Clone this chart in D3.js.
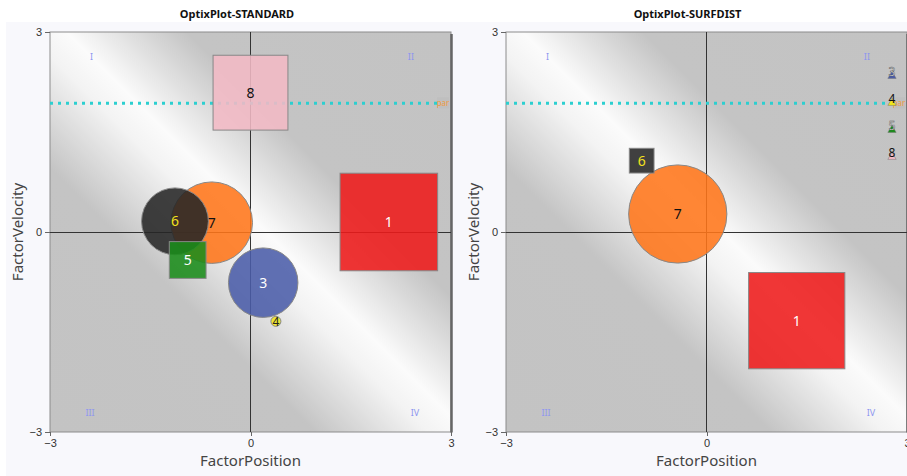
<!DOCTYPE html>
<html lang="en">
<head>
  <meta charset="UTF-8">
  <title>OptixPlot</title>
  <style>
    body { margin: 0; background: #fff; }
    svg { display: block; font-family: "Noto Sans", "DejaVu Sans", sans-serif; }
    .axis path, .axis line { stroke: #666; shape-rendering: crispEdges; }
    .axis text { font-size: 11px; fill: #333; }
  </style>
</head>
<body>
<div class="chart"></div>
<script src="https://d3js.org/d3.v7.min.js"></script>
<script>
  // data
  const xTicks = [-3, 0, 3]
  const yTicks = [-3, 0, 3]
  const quadrants = ['I', 'II', 'III', 'IV']
  const parLevel = 1.93

  // left panel: STANDARD
  const stdIds = ['1', '3', '4', '5', '6', '7', '8']
  const stdShape = ['square', 'circle', 'circle', 'square', 'circle', 'circle', 'square']
  const stdX = [2.07, 0.19, 0.38, -0.94, -1.13, -0.58, 0.0]
  const stdY = [0.15, -0.76, -1.34, -0.42, 0.16, 0.14, 2.09]
  const stdSize = [0.73, 0.52, 0.075, 0.275, 0.50, 0.61, 0.56]

  // right panel: SURFDIST
  const surfIds = ['1', '6', '7']
  const surfShape = ['square', 'square', 'circle']
  const surfX = [1.35, -0.97, -0.43]
  const surfY = [-1.33, 1.07, 0.27]
  const surfSize = [0.72, 0.185, 0.735]
  const surfOffscale = ['3', '4', '5', '8']

  const fillColor = { '1': '#ee1a1a', '3': '#4a5ca8', '4': '#efe61c', '5': '#1a8c1a', '6': '#262626', '7': '#ff7519', '8': '#f3bac5' }
  const textColor = { '1': '#fff', '3': '#fff', '4': '#222', '5': '#fff', '6': '#f2e21e', '7': '#111', '8': '#111' }

  let width = 907
  let height = 476
  let svg = d3.select('.chart').append('svg').attr('width', width).attr('height', height)

  let defs = svg.append('defs')
  let grad = defs.append('linearGradient').attr('id', 'bg')
    .attr('x1', 0).attr('y1', 1).attr('x2', 1).attr('y2', 0)
  grad.selectAll('stop').data([
    [0, '#c3c3c3'], [0.33, '#c4c4c4'], [0.47, '#f3f3f3'], [0.52, '#fbfbfb'], [0.67, '#c4c4c4'], [1, '#c3c3c3']
  ]).join('stop').attr('offset', d => d[0]).attr('stop-color', d => d[1])

  drawPanel({ left: 6, right: 458, plotL: 50, plotR: 451, title: 'OptixPlot-STANDARD',
    ids: stdIds, shape: stdShape, xs: stdX, ys: stdY, size: stdSize, offscale: [] })
  drawPanel({ left: 458, right: 907, plotL: 506, plotR: 907, title: 'OptixPlot-SURFDIST',
    ids: surfIds, shape: surfShape, xs: surfX, ys: surfY, size: surfSize, offscale: surfOffscale })

  function drawPanel (p) {
    let plotT = 32
    let plotB = 432
    let g = svg.append('g')

    g.append('rect').attr('x', p.left).attr('y', 22)
      .attr('width', p.right - p.left).attr('height', height - 22).attr('fill', '#f8f8fc')

    g.append('text').attr('x', (p.left + p.right) / 2 + 5).attr('y', 18)
      .attr('text-anchor', 'middle').style('font-size', '11px').style('font-weight', 'bold')
      .attr('fill', '#111').text(p.title)

    let x = d3.scaleLinear().domain([-3, 3]).range([p.plotL, p.plotR])
    let y = d3.scaleLinear().domain([-3, 3]).range([plotB, plotT])

    // plot background + frame
    g.append('rect').attr('x', x(-3)).attr('y', y(3))
      .attr('width', x(3) - x(-3)).attr('height', y(-3) - y(3))
      .attr('fill', 'url(#bg)').attr('stroke', '#8c8c8c')
    g.append('path')
      .attr('d', `M${x(3) + 0.5},${y(3) + 2}V${y(-3) + 0.5}`)
      .attr('stroke', '#666').attr('stroke-width', 2.5).attr('fill', 'none')

    // quadrant labels
    let qPos = [[-2.38, 2.62], [2.4, 2.62], [-2.4, -2.72], [2.46, -2.72]]
    g.selectAll('.quad').data(quadrants).join('text').attr('class', 'quad')
      .attr('x', (d, i) => x(qPos[i][0])).attr('y', (d, i) => y(qPos[i][1]))
      .attr('text-anchor', 'middle').attr('dy', '0.35em')
      .style('font-size', '9px').attr('fill', '#8f96f0').text(d => d)

    // crosshair
    g.append('line').attr('x1', x(0)).attr('x2', x(0)).attr('y1', y(3)).attr('y2', y(-3))
      .attr('stroke', '#333').attr('shape-rendering', 'crispEdges')
    g.append('line').attr('x1', x(-3)).attr('x2', x(3)).attr('y1', y(0)).attr('y2', y(0))
      .attr('stroke', '#333').attr('shape-rendering', 'crispEdges')

    // par line
    let parEnd = p.offscale.length ? x(3) - 16 : x(3) - 14
    g.append('line').attr('x1', x(-3)).attr('x2', parEnd).attr('y1', y(parLevel)).attr('y2', y(parLevel))
      .attr('stroke', '#2ccfd0').attr('stroke-width', 3).attr('stroke-dasharray', '3,5')
    g.append('rect').attr('x', x(3) - 14).attr('y', y(parLevel) - 6).attr('width', 12).attr('height', 11)
      .attr('fill', '#bdbdbd').attr('opacity', 0.6)
    g.append('text').attr('x', x(3) - 8).attr('y', y(parLevel)).attr('dy', '0.35em')
      .attr('text-anchor', 'middle').style('font-size', '8px').attr('fill', '#f09a40').text('par')

    // bubbles, biggest first
    let rows = p.ids.map((id, i) => ({ id, shape: p.shape[i], x: p.xs[i], y: p.ys[i], s: p.size[i] }))
    rows.sort((a, b) => b.s - a.s)
    let bub = g.selectAll('.bub').data(rows).join('g').attr('class', 'bub')
    bub.each(function (d) {
      let el = d3.select(this)
      let half = x(d.s) - x(0)
      if (d.shape === 'circle') {
        el.append('circle').attr('cx', x(d.x)).attr('cy', y(d.y)).attr('r', half)
      } else {
        el.append('rect').attr('x', x(d.x) - half).attr('y', y(d.y) - half)
          .attr('width', half * 2).attr('height', half * 2)
      }
    })
    bub.selectAll('circle, rect').attr('fill', function () { return fillColor[d3.select(this.parentNode).datum().id] })
      .attr('fill-opacity', 0.88).attr('stroke', '#888').attr('stroke-width', 1)
    bub.append('text').attr('x', d => x(d.x)).attr('y', d => y(d.y)).attr('dy', '0.36em')
      .attr('text-anchor', 'middle').style('font-size', d => d.s < 0.1 ? '12px' : '14px')
      .attr('fill', d => textColor[d.id]).text(d => d.id)

    // off-scale markers stacked at the right edge
    let off = g.selectAll('.off').data(p.offscale).join('g').attr('class', 'off')
      .attr('transform', (d, i) => `translate(${x(3) - 15},${y(2.4) + i * 27})`)
    off.append('path').attr('d', d3.symbol(d3.symbolTriangle, 30)).attr('transform', 'translate(0,4)')
      .attr('fill', d => fillColor[d]).attr('stroke', '#777').attr('stroke-width', 0.5)
    off.append('text').attr('dy', '0.35em').attr('text-anchor', 'middle').style('font-size', '12px')
      .attr('fill', d => textColor[d] === '#fff' ? '#fff' : '#111')
      .attr('stroke', d => textColor[d] === '#fff' ? '#555' : 'none').attr('stroke-width', 0.5)
      .text(d => d)

    // axes
    g.append('g').attr('class', 'axis').attr('transform', `translate(0,${y(-3)})`)
      .call(d3.axisBottom(x).tickValues(xTicks).tickSize(4).tickFormat(d3.format('d')))
      .call(a => a.select('.domain').remove())
    g.append('g').attr('class', 'axis').attr('transform', `translate(${x(-3)},0)`)
      .call(d3.axisLeft(y).tickValues(yTicks).tickSize(5).tickFormat(d3.format('d')))
      .call(a => a.select('.domain').remove())

    g.append('text').attr('x', x(0)).attr('y', 466).attr('text-anchor', 'middle')
      .style('font-size', '15px').attr('fill', '#444').text('FactorPosition')
    g.append('text').attr('transform', `translate(${p.plotL - 32},${y(0)}) rotate(-90)`)
      .attr('text-anchor', 'middle').attr('dy', '0.35em')
      .style('font-size', '15px').attr('fill', '#444').text('FactorVelocity')
  }
</script>
</body>
</html>
